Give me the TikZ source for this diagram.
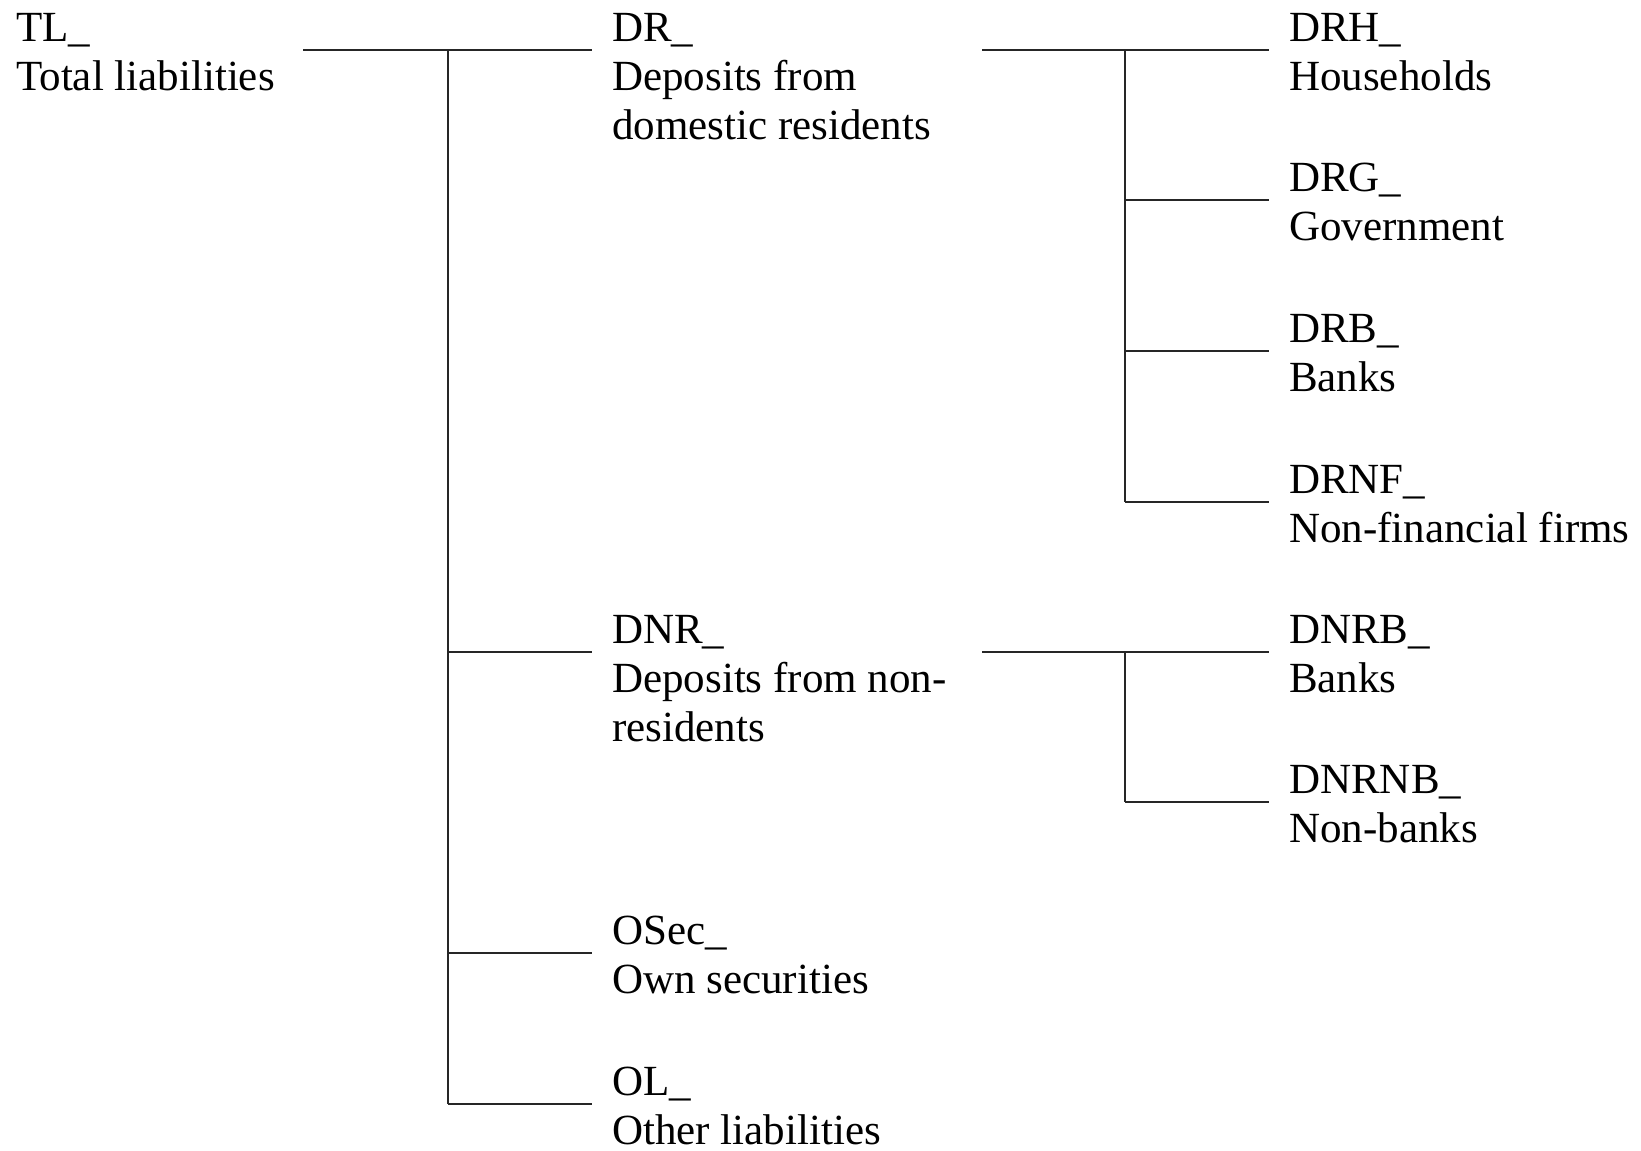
\documentclass[tikz,border=0pt]{standalone}
\usepackage{fontspec}
\setmainfont{Liberation Serif}
\usepackage{tikz}
\usetikzlibrary{positioning, calc}

\begin{document}
\begin{tikzpicture}[
    x=1pt, y=1pt,
    item/.style={anchor=north west, inner sep=0pt, align=left, font=\fontsize{43}{49}\selectfont,
                 execute at begin node={\rule{0pt}{34pt}}},
    conn/.style={line width=1.7pt, draw=black!85}
]
    \useasboundingbox (0,0) rectangle (1641,-1151);

    % level 1
    \node[item] (tl)    at (16,-13)    {TL\_\\Total liabilities};
    % level 2
    \node[item] (dr)    at (612,-13)   {DR\_\\Deposits from\\domestic residents};
    \node[item] (dnr)   at (612,-615)  {DNR\_\\Deposits from non-\\residents};
    \node[item] (osec)  at (612,-916)  {OSec\_\\Own securities};
    \node[item] (ol)    at (612,-1067) {OL\_\\Other liabilities};
    % level 3
    \node[item] (drh)   at (1289,-13)  {DRH\_\\Households};
    \node[item] (drg)   at (1289,-163) {DRG\_\\Government};
    \node[item] (drb)   at (1289,-314) {DRB\_\\Banks};
    \node[item] (drnf)  at (1289,-465) {DRNF\_\\Non-financial firms};
    \node[item] (dnrb)  at (1289,-615) {DNRB\_\\Banks};
    \node[item] (dnrnb) at (1289,-765) {DNRNB\_\\Non-banks};

    % taps in front of the labels
    \foreach \n in {dr,dnr,osec,ol,drh,drg,drb,drnf,dnrb,dnrnb}
        \coordinate (\n-in) at ([xshift=-20.5pt,yshift=-37pt]\n.north west);

    \coordinate (tl-out)  at (303,-50);
    \coordinate (tl-bus)  at (448,-50);
    \coordinate (dr-out)  at (982,-50);
    \coordinate (dr-bus)  at (1125,-50);
    \coordinate (dnr-out) at (982,-652);
    \coordinate (dnr-bus) at (1125,-652);

    \draw[conn] (tl-out) -- (dr-in);
    \draw[conn] (tl-bus) -- (tl-bus |- ol-in);
    \foreach \n in {dnr,osec,ol}
        \draw[conn] (tl-bus |- \n-in) -- (\n-in);

    \draw[conn] (dr-out) -- (drh-in);
    \draw[conn] (dr-bus) -- (dr-bus |- drnf-in);
    \foreach \n in {drg,drb,drnf}
        \draw[conn] (dr-bus |- \n-in) -- (\n-in);

    \draw[conn] (dnr-out) -- (dnrb-in);
    \draw[conn] (dnr-bus) -- (dnr-bus |- dnrnb-in);
    \draw[conn] (dnr-bus |- dnrnb-in) -- (dnrnb-in);
\end{tikzpicture}
\end{document}
